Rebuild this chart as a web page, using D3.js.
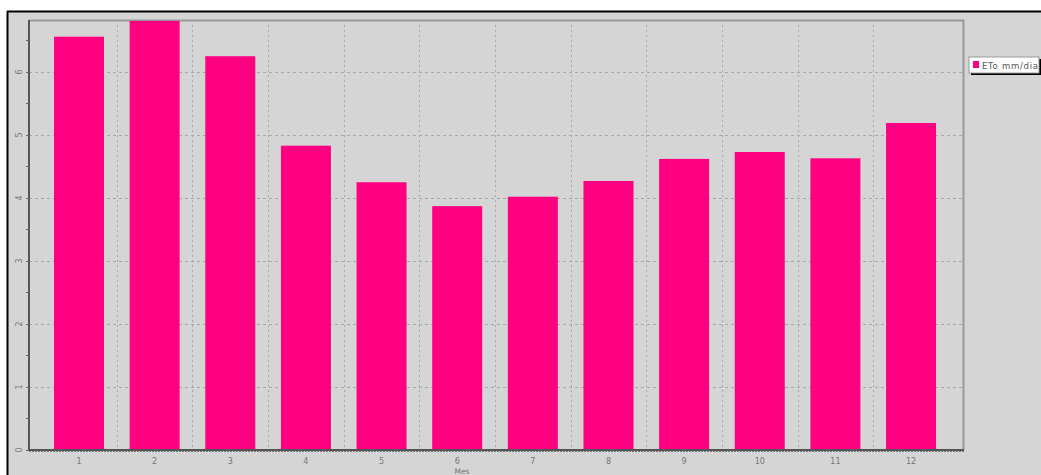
<!DOCTYPE html>
<html>
<head>
<meta charset="utf-8">
<script src="https://cdn.jsdelivr.net/npm/d3@7"></script>
<style>
  html, body { margin: 0; padding: 0; background: #ffffff; overflow: hidden; }
  svg { display: block; }
  text { font-family: "DejaVu Sans", sans-serif; }
</style>
</head>
<body>
<svg id="chart" width="1041" height="475"></svg>
<script>
// Data
const months = [1, 2, 3, 4, 5, 6, 7, 8, 9, 10, 11, 12];
const etoValues = [6.56, 6.81, 6.25, 4.83, 4.25, 3.87, 4.02, 4.27, 4.62, 4.73, 4.63, 5.19];
const yTicks = [0, 1, 2, 3, 4, 5, 6];
const seriesName = "ETo mm/dia";
const xTitle = "Mes";

const svg = d3.select("#chart");
const W = 1041, H = 475;
const plot = { left: 29, right: 963, top: 20, bottom: 450 };

// outer panel
svg.append("rect").attr("x", 7).attr("y", 11).attr("width", W - 7).attr("height", H - 11)
  .attr("fill", "#d5d5d5");
svg.append("line").attr("x1", 7).attr("x2", W).attr("y1", 11.5).attr("y2", 11.5)
  .attr("stroke", "#000").attr("stroke-width", 2);
svg.append("line").attr("x1", 7.5).attr("x2", 7.5).attr("y1", 11).attr("y2", H)
  .attr("stroke", "#000").attr("stroke-width", 2);

const x = d3.scaleLinear().domain([0.339, 12.687]).range([plot.left, plot.right]);
const y = d3.scaleLinear().domain([0, 6.825]).range([plot.bottom, plot.top]);
const barW = x(1.661) - x(1);

// top and right border of plot
svg.append("path")
  .attr("d", `M${plot.left},${plot.top + 0.5}H${plot.right + 0.5}V${plot.bottom}`)
  .attr("fill", "none").attr("stroke", "#9a9a9a").attr("stroke-width", 2);

// horizontal grid
svg.append("g").selectAll("line").data(yTicks.filter(d => d > 0)).join("line")
  .attr("x1", plot.left).attr("x2", plot.right)
  .attr("y1", d => Math.round(y(d)) + 0.5).attr("y2", d => Math.round(y(d)) + 0.5)
  .attr("stroke", "#a8a8a8").attr("stroke-dasharray", "3,3");

// vertical grid between months
const vGrid = months.slice(0, -1).map(m => m + 0.5);
svg.append("g").selectAll("line").data(vGrid).join("line")
  .attr("x1", d => Math.round(x(d)) + 0.5).attr("x2", d => Math.round(x(d)) + 0.5)
  .attr("y1", plot.top).attr("y2", plot.bottom)
  .attr("stroke", "#a8a8a8").attr("stroke-dasharray", "2,3");

// bars
svg.append("g").selectAll("rect").data(months).join("rect")
  .attr("x", (d) => x(d) - barW / 2)
  .attr("width", barW)
  .attr("y", (d, i) => y(etoValues[i]))
  .attr("height", (d, i) => y(0) - y(etoValues[i]))
  .attr("fill", "#ff0080");

// y axis
const yAxis = svg.append("g");
yAxis.append("line").attr("x1", plot.left).attr("x2", plot.left)
  .attr("y1", plot.top).attr("y2", plot.bottom + 1)
  .attr("stroke", "#555").attr("stroke-width", 2);
const minor = d3.range(0, 6.6, 0.5);
yAxis.selectAll("line.tk").data(minor).join("line").attr("class", "tk")
  .attr("x1", plot.left - 3).attr("x2", plot.left)
  .attr("y1", d => Math.round(y(d)) + 0.5).attr("y2", d => Math.round(y(d)) + 0.5)
  .attr("stroke", "#666");
yAxis.selectAll("text").data(yTicks).join("text")
  .attr("transform", d => `translate(${plot.left - 7},${y(d)}) rotate(-90)`)
  .attr("text-anchor", "middle")
  .attr("font-size", 8).attr("fill", "#777")
  .text(d => d);

// x axis
const xAxis = svg.append("g");
xAxis.append("line").attr("x1", plot.left).attr("x2", plot.right + 1)
  .attr("y1", plot.bottom).attr("y2", plot.bottom)
  .attr("stroke", "#555").attr("stroke-width", 2);
xAxis.append("line").attr("x1", plot.left).attr("x2", plot.right + 1)
  .attr("y1", plot.bottom + 1.5).attr("y2", plot.bottom + 1.5)
  .attr("stroke", "#777").attr("stroke-width", 1).attr("stroke-dasharray", "2,1");
xAxis.selectAll("text").data(months).join("text")
  .attr("x", d => x(d)).attr("y", plot.bottom + 14)
  .attr("text-anchor", "middle")
  .attr("font-size", 8).attr("fill", "#777")
  .text(d => d);
svg.append("text").attr("x", (plot.left + plot.right) / 2 - 34).attr("y", 474)
  .attr("text-anchor", "middle").attr("font-size", 7.5).attr("fill", "#777")
  .text(xTitle);

// legend
const lg = svg.append("g").attr("transform", "translate(969,57)");
lg.append("rect").attr("x", 2).attr("y", 2).attr("width", 70).attr("height", 16).attr("fill", "#000");
lg.append("rect").attr("x", 0).attr("y", 0).attr("width", 70).attr("height", 16)
  .attr("fill", "#fff").attr("stroke", "#999");
lg.append("rect").attr("x", 4).attr("y", 4).attr("width", 6).attr("height", 7).attr("fill", "#ff0080");
lg.append("text").attr("x", 13).attr("y", 11.5).attr("font-size", 8.5).attr("fill", "#555")
  .attr("textLength", 56).text(seriesName);
</script>
</body>
</html>
